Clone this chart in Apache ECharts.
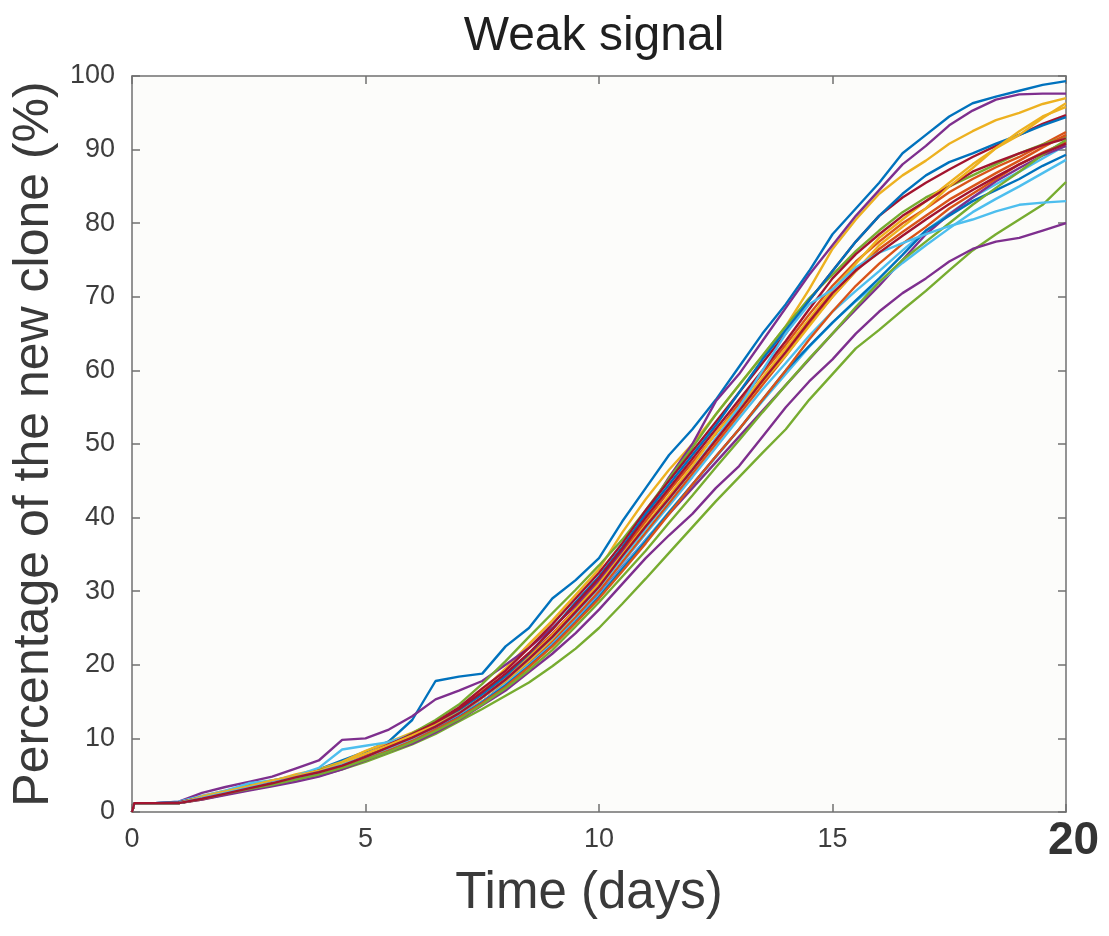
<!DOCTYPE html>
<html>
<head>
<meta charset="utf-8">
<script src="https://cdn.jsdelivr.net/npm/echarts@6/dist/echarts.min.js"></script>
<style>
html,body{margin:0;padding:0;background:#fff;}
#c{width:1109px;height:936px;}
</style>
</head>
<body>
<div id="c"></div>
<script>
// Time points (days)
const days = [0, 0.05, 0.5, 1, 1.5, 2, 2.5, 3, 3.5, 4, 4.5, 5, 5.5, 6, 6.5, 7, 7.5, 8, 8.5, 9, 9.5, 10, 10.5, 11, 11.5, 12, 12.5, 13, 13.5, 14, 14.5, 15, 15.5, 16, 16.5, 17, 17.5, 18, 18.5, 19, 19.5, 20];

// Percentage of the new clone (%) for each simulated run
const blueA = [0,1.2,1.2, 1.3,2,2.8,3.6,4.3,4.8,5.8,7,8.2,9.6, 12.5,17.8,18.4,18.8,22.5,25,29,31.5,34.5,39.5, 44,48.5,52,56,60.5,65,69,73.5,78.5,82, 85.5,89.5,92,94.5,96.3,97.2,98,98.8,99.3];
const orangeA = [0,1.2,1.2, 1.2,1.8,2.5,3.1,3.8,4.5,5.3,6.2,7.4,8.8, 10.3,11.8,13.6,15.8,18.3,21.2,24.2,27.6,31.2,35.4, 39.5,43.6,47.5,51.4,55.5,59.6,63.5,67.6,71.5,74.8, 77.5,80,82,84.2,86,87.6,89,90.7,92.4];
const yellowA = [0,1.2,1.2, 1.2,2.2,2.9,3.5,4.2,5.1,5.8,6.8,8.3,9.5, 10.8,12.2,14,16.5,19.5,22.8,26,29.5,33,38, 42.5,46.5,50,54,58,62,66,71,76.5,80.5, 84,86.5,88.5,90.8,92.5,94,95,96.2,97];
const purpleA = [0,1.2,1.2, 1.4,2.6,3.4,4.1,4.8,5.9,7,9.8,10,11.2, 13,15.3,16.5,17.8,20,22.3,25,28,31.5,35.5, 40.5,45.5,50,55.8,59.5,64,68.5,73,77,81, 84.5,88,90.5,93.3,95.3,96.8,97.5,97.6,97.6];
const greenA = [0,1.2,1.2, 1.2,2,2.7,3.5,4.2,4.9,5.7,6.6,7.8,9.1, 10.7,12.5,14.6,17.4,20.5,23.8,27,30.2,33.5,37, 41,45.3,49.5,54,58,62,66,69.8,73,76.2, 79,81.5,83.5,85,86.5,88,89.5,90.7,91.8];
const lightblueA = [0,1.2,1.2, 1.4,2.2,2.9,3.9,4.3,4.9,6,8.5,9,9.5, 10.5,12,13.8,15.6,17.8,20.4,23.2,26.5,30,33.8, 37.8,41.6,45.5,49.5,53.5,57.4,61,64.7,68,70.8, 73.5,76.3,79,81.3,83.5,85.3,87,88.8,90.6];
const darkredA = [0,1.2,1.2, 1.2,2,2.7,3.3,4.1,4.8,5.6,6.5,7.8,9.2, 10.5,12.2,14.2,16.8,19.2,22.3,25.5,29,32.5,36.5, 41,45,49,53,57,61,65,69.5,73.5,77.5, 81,83.5,85.5,87.3,89,90.5,92,93.5,94.7];
const blueB = [0,1.2,1.2, 1.3,1.9,2.6,3.2,4,4.7,5.5,6.4,7.6,8.9, 10.2,11.9,13.8,16,18.5,21.5,24.8,28.5,32,36, 40.5,44.5,48.5,52.5,57,61.5,65.5,69.5,73.5,77.5, 81,84,86.5,88.3,89.5,90.8,92,93.3,94.4];
const orangeB = [0,1.2,1.2, 1.2,1.7,2.4,3,3.7,4.3,5,6,7.2,8.4, 9.8,11.3,13,15,17.5,20.2,23.2,26.5,30,34, 38,42,46,50,54,58,62,66.2,70,73.5, 76.5,78.8,81,83.2,85,86.8,88.5,90.3,92];
const yellowB = [0,1.2,1.2, 1.2,1.9,2.6,3.2,3.9,4.6,5.4,6.3,7.5,8.7, 10,11.5,13.2,15.5,18,21,24,27.5,31,35, 39,43,47,51.5,55,59,63,67,71,74.5, 78,80.5,83,85.5,88,90.2,92,94.3,96.3];
const purpleB = [0,1.2,1.2, 1.2,1.9,2.6,3.3,4,4.6,5.3,6.2,7.3,8.5, 9.8,11.3,13,15,17.3,20,22.8,26,29.5,33.3, 37,40.5,44,47.5,51,54.5,58,61.5,65,68.3, 71.5,75,78.5,81.2,83.5,85.7,87.5,89.2,90.5];
const greenB = [0,1.2,1.2, 1.2,1.8,2.4,3,3.6,4.2,4.9,5.8,6.8,8, 9.2,10.6,12.3,14,15.8,17.6,19.8,22.2,25,28.3, 31.7,35.2,38.7,42.2,45.5,48.8,52,56,59.5,63, 65.5,68.2,70.8,73.6,76.3,78.5,80.5,82.5,85.6];
const lightblueB = [0,1.2,1.2, 1.2,1.8,2.4,3,3.7,4.4,5.1,6.1,7.2,8.4, 9.7,11.2,13,15,17.4,20,22.8,26,29.4,33.2, 37,40.8,44.5,48.2,52,55.8,59.5,63.2,66.5,69.4, 72,74.6,77,79.3,81.5,83.3,85,86.8,88.6];
const darkredB = [0,1.2,1.2, 1.3,2,2.7,3.3,4,4.7,5.5,6.5,7.7,9.1, 10.6,12.1,14,16.3,18.8,21.6,24.8,28.3,31.8,35.8, 40,44,48,52,56,60,64,68.3,72.5,75.8, 78.5,81,83,85,87,88.3,89.5,90.6,91.5];
const blueC = [0,1.2,1.2, 1.2,1.8,2.5,3.2,3.8,4.5,5.2,6.1,7.2,8.3, 9.6,11.2,12.9,14.9,17.2,19.8,22.6,25.8,29.2,33, 36.8,40.7,44.5,48.3,52,56,60,63.3,66.5,69.5, 72.5,75.7,79,81,83,84.5,86,87.8,89.3];
const orangeC = [0,1.2,1.2, 1.2,1.9,2.6,3.3,3.9,4.5,5.2,6.2,7.3,8.4, 9.7,11.2,12.8,14.8,17,19.7,22.5,25.7,29,32.7, 36.5,40.5,44.5,48.3,52,56,60,64.2,68,71.5, 74.5,77.2,79.5,82,84,86,88,89.6,91];
const yellowC = [0,1.2,1.2, 1.2,2.1,2.8,3.5,4.3,4.9,5.6,6.6,7.9,9.1, 10.4,11.8,13.5,15.6,17.8,20.5,23.5,27,30.5,34.5, 38.5,42.5,46.5,50.5,54.5,58.5,62,66,70,73.5, 77,79.5,82,85,87.5,90.2,92.5,94.5,95.8];
const purpleC = [0,1.2,1.2, 1.2,1.7,2.3,2.9,3.5,4.1,4.8,5.8,7,8.2, 9.3,10.8,12.5,14.5,16.5,19,21.5,24.3,27.5,31, 34.5,37.6,40.5,44,47,51,55,58.5,61.5,65, 68,70.5,72.5,74.8,76.5,77.5,78,79,80];
const greenC = [0,1.2,1.2, 1.2,1.8,2.5,3.1,3.7,4.4,5.1,6,7.1,8.2, 9.5,11,12.6,14.6,16.8,19.3,22,25.2,28.5,32, 35.5,39.3,43,46.8,50.5,54.3,58,61.6,65,68.6, 72,75,77.5,80,82.5,84.8,87,89.3,91.3];
const lightblueC = [0,1.2,1.2, 1.2,1.9,2.6,3.3,4,4.7,5.4,6.4,7.5,8.7, 10,11.6,13.4,15.6,18,20.8,23.7,27,30.5,34.5, 38.5,42.5,46.5,50.8,55,60,65,69,71,74, 76,77.3,78.5,79.6,80.5,81.6,82.5,82.8,83];
const darkredC = [0,1.2,1.2, 1.2,1.8,2.5,3.2,3.9,4.7,5.4,6.3,7.5,8.8, 10.1,11.6,13.4,15.6,18,20.8,23.8,27.2,30.6,34.8, 38.8,42.6,46.5,50.5,54.5,58.6,62.5,66.6,70.5,73.6, 76,78.3,80.5,82.6,84.5,86.3,88,89.5,90.8];

const xTicks = [0, 5, 10, 15, 20];
const yTicks = [0, 10, 20, 30, 40, 50, 60, 70, 80, 90, 100];

const palette = {
  blue: '#0072BD', orange: '#D95319', yellow: '#EDB120', purple: '#7E2F8E',
  green: '#77AC30', lightblue: '#4DBEEE', darkred: '#A2142F'
};

const runs = [
  ['blue', blueA], ['orange', orangeA], ['yellow', yellowA], ['purple', purpleA],
  ['green', greenA], ['lightblue', lightblueA], ['darkred', darkredA],
  ['blue', blueB], ['orange', orangeB], ['yellow', yellowB], ['purple', purpleB],
  ['green', greenB], ['lightblue', lightblueB], ['darkred', darkredB],
  ['blue', blueC], ['orange', orangeC], ['yellow', yellowC], ['purple', purpleC],
  ['green', greenC], ['lightblue', lightblueC], ['darkred', darkredC]
];

const axisGray = '#707070';
const textGray = '#3d3d3d';
const font = 'Liberation Sans, Arial, Helvetica, sans-serif';

const chart = echarts.init(document.getElementById('c'), null, {renderer: 'canvas'});

const lineAxis = {
  axisLine: {show: true, onZero: false, lineStyle: {color: axisGray, width: 1.5}},
  axisTick: {show: true, inside: true, length: 8, lineStyle: {color: axisGray, width: 1.5}},
  splitLine: {show: false}
};

chart.setOption({
  animation: false,
  backgroundColor: '#ffffff',
  textStyle: {fontFamily: font},
  title: {
    text: 'Weak signal',
    left: 589,
    top: 8,
    textAlign: 'center',
    textStyle: {fontSize: 48, fontWeight: 'normal', color: '#1f1f1f', fontFamily: font}
  },
  grid: {
    left: 132, right: 43, top: 76, bottom: 124,
    show: true, backgroundColor: '#fcfcfa', borderWidth: 0
  },
  xAxis: [
    Object.assign({
      type: 'value', min: xTicks[0], max: xTicks[xTicks.length - 1], interval: 5,
      position: 'bottom',
      name: 'Time (days)', nameLocation: 'middle', nameGap: 39,
      nameTextStyle: {fontSize: 51, color: '#3a3a3a', fontFamily: font, padding: [0, 20, 0, 0]},
      axisLabel: {
        fontSize: 27, color: textGray, margin: 14, fontFamily: font,
        formatter: function (v) { return v === 20 ? '{b|20}' : String(v); },
        rich: {b: {fontSize: 46, fontWeight: 'bold', color: '#333333', lineHeight: 30, padding: [0, 0, 0, 15], fontFamily: font}}
      }
    }, lineAxis),
    Object.assign({
      type: 'value', min: xTicks[0], max: xTicks[xTicks.length - 1], interval: 5,
      position: 'top', axisLabel: {show: false}
    }, lineAxis)
  ],
  yAxis: [
    Object.assign({
      type: 'value', min: yTicks[0], max: yTicks[yTicks.length - 1], interval: 10,
      position: 'left',
      name: 'Percentage of the new clone (%)', nameLocation: 'middle', nameGap: 72,
      nameTextStyle: {fontSize: 50, color: '#3a3a3a', fontFamily: font},
      axisLabel: {fontSize: 27, color: textGray, margin: 17, fontFamily: font}
    }, lineAxis),
    Object.assign({
      type: 'value', min: yTicks[0], max: yTicks[yTicks.length - 1], interval: 10,
      position: 'right', axisLabel: {show: false}
    }, lineAxis)
  ],
  series: runs.map(function (r) {
    const vals = r[1];
    return {
      type: 'line',
      xAxisIndex: 0, yAxisIndex: 0,
      data: days.map(function (d, i) { return [d, vals[i]]; }),
      showSymbol: false, symbol: 'none',
      silent: true,
      color: palette[r[0]],
      lineStyle: {width: 2.4, color: palette[r[0]]},
      z: 2
    };
  })
});
</script>
</body>
</html>
